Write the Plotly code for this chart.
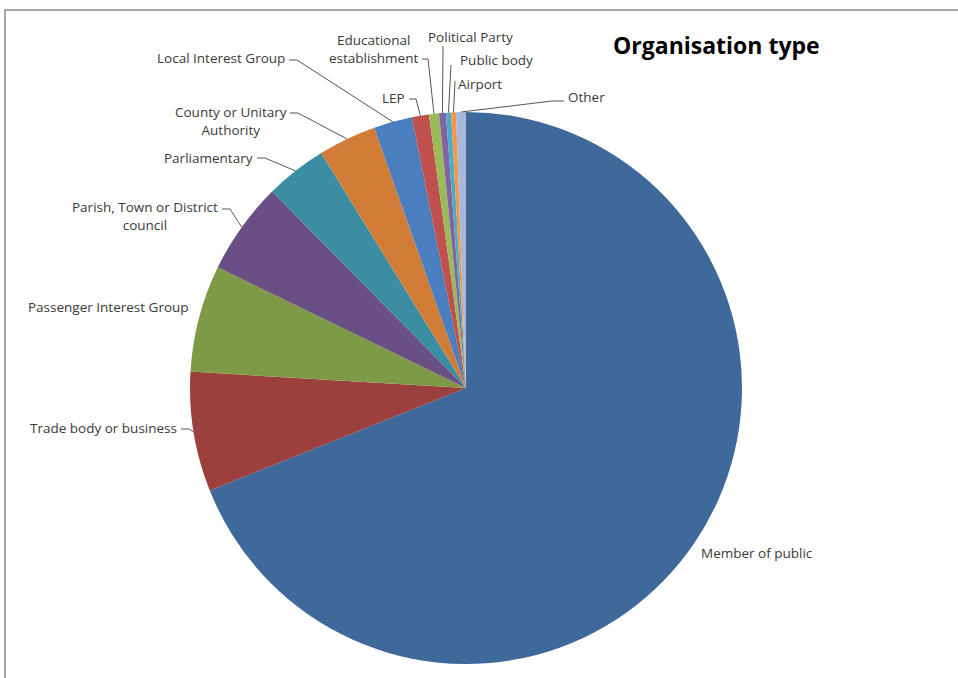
import math
import plotly.graph_objects as go

# Responses by organisation type (share of responses, %)
categories = [
    "Member of public",
    "Trade body or business",
    "Passenger Interest Group",
    "Parish, Town or District council",
    "Parliamentary",
    "County or Unitary Authority",
    "Local Interest Group",
    "LEP",
    "Educational establishment",
    "Political Party",
    "Public body",
    "Airport",
    "Other",
]
shares = [68.9, 7.0, 6.25, 5.4, 3.6, 3.4, 2.25, 1.0, 0.58, 0.4, 0.3, 0.28, 0.58]

slice_colors = [
    "#3F699B", "#9C403D", "#7E9A47", "#6A4F84", "#3B8DA2", "#D17D37",
    "#4A7EBE", "#C0504D", "#9BBB59", "#8064A2", "#4BACC6", "#F79646", "#A7B9DB",
]

# Label text (with line breaks) and its placement in pixels:
# (anchor x, anchor y, xanchor, (leader start x, leader start y, elbow x) or None)
label_text = [
    "Member of public",
    "Trade body or business",
    "Passenger Interest Group",
    "Parish, Town or District<br>council",
    "Parliamentary",
    "County or Unitary<br>Authority",
    "Local Interest Group",
    "LEP",
    "Educational<br>establishment",
    "Political Party",
    "Public body",
    "Airport",
    "Other",
]
label_pos = [
    (699, 553, "left", None),
    (179, 428, "right", (181, 429, 189)),
    (191, 307, "right", None),
    (220, 216, "right", (222, 209, 230)),
    (255, 158, "right", (257, 158, 265)),
    (289, 121, "right", (290, 113, 298)),
    (287, 58, "right", (289, 60, 297)),
    (407, 98, "right", (409, 99, 416)),
    (420, 49, "right", (422, 59, 428)),
    (426, 37, "left", (443, 46, 443)),
    (458, 60, "left", (451, 65, 451)),
    (456, 84, "left", (455, 81, 455)),
    (566, 97, "left", (564, 101, 552)),
]

W, H = 958, 678
CX, CY, R = 466, 388, 276


def px(x):
    return x / W


def py(y):
    return 1 - y / H


fig = go.Figure(
    go.Pie(
        labels=categories,
        values=shares,
        sort=False,
        direction="clockwise",
        rotation=0,
        textinfo="none",
        hoverinfo="label+percent",
        marker=dict(colors=slice_colors, line=dict(width=0)),
        domain=dict(x=[px(CX - R), px(CX + R)], y=[py(CY + R), py(CY - R)]),
        showlegend=False,
    )
)

# Leader lines run from each label to the rim at the middle of its slice
total = sum(shares)
cum = 0.0
shapes = []
annotations = []
for name, val, text, pos in zip(categories, shares, label_text, label_pos):
    mid = (cum + val / 2) / total * 2 * math.pi
    cum += val
    ex = CX + R * math.sin(mid)
    ey = CY - R * math.cos(mid)
    ax, ay, xanchor, leader = pos
    annotations.append(
        dict(
            x=px(ax), y=py(ay), xref="paper", yref="paper",
            text=text, showarrow=False, xanchor=xanchor, yanchor="middle",
            align="center",
            font=dict(family="Open Sans", size=13.5, color="#3a3a3a"),
        )
    )
    if leader is not None:
        lx, ly, elbow = leader
        path = (f"M {px(lx)} {py(ly)} L {px(elbow)} {py(ly)} "
                f"L {px(ex)} {py(ey)}")
        shapes.append(dict(type="path", path=path, xref="paper", yref="paper",
                           line=dict(color="#555555", width=1)))

# Chart frame
shapes.append(dict(type="rect", xref="paper", yref="paper",
                   x0=px(5), x1=px(W + 20), y0=py(H + 20), y1=py(10),
                   line=dict(color="#8a8a8a", width=1.5)))

annotations.append(
    dict(
        x=px(716), y=py(45), xref="paper", yref="paper",
        text="<b>Organisation type</b>", showarrow=False,
        xanchor="center", yanchor="middle",
        font=dict(family="Open Sans", size=23, color="#000000"),
    )
)

fig.update_layout(
    width=W, height=H,
    margin=dict(l=0, r=0, t=0, b=0),
    paper_bgcolor="white",
    plot_bgcolor="white",
    shapes=shapes,
    annotations=annotations,
)

fig.write_html("out.html")
